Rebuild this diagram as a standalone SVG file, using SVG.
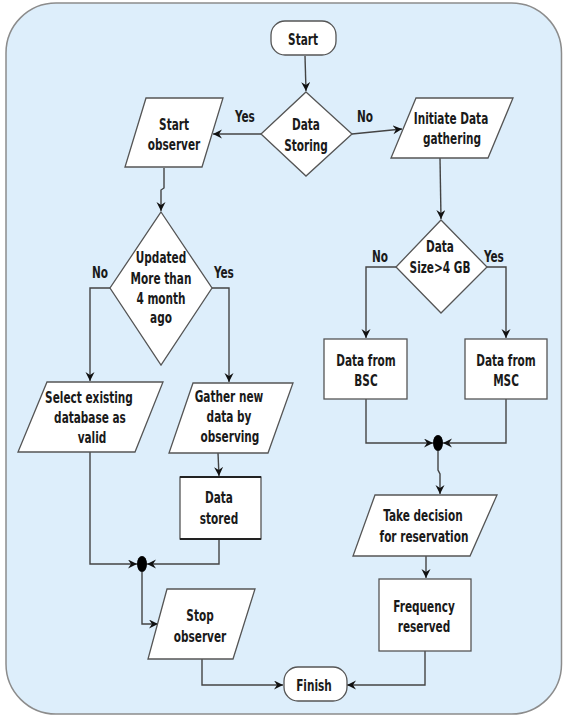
<svg xmlns="http://www.w3.org/2000/svg" width="563" height="717" viewBox="0 0 563 717">
<style>
.bg{fill:#ddeefb;stroke:#8c8c8c;stroke-width:1.5}
.n{fill:#ffffff;stroke:#555;stroke-width:1.3}
.c{fill:none;stroke:#444;stroke-width:1.4}
.dot{fill:#000}
text{font-family:"DejaVu Sans Condensed","DejaVu Sans",sans-serif;font-weight:bold;font-size:15px;fill:#1a1a1a;text-anchor:middle;transform-box:fill-box;transform-origin:center;transform:scaleX(0.78)}
</style>
<defs>
<marker id="ah" markerUnits="userSpaceOnUse" markerWidth="10" markerHeight="10" refX="9" refY="4.5" orient="auto">
<path d="M0,0 L9,4.5 L0,9 L3,4.5 z" fill="#111"/>
</marker>
</defs>
<rect class="bg" x="6" y="3" width="555.5" height="711" rx="50" ry="50"/>
<g id="connectors">
<path class="c" d="M305,56 L306,91" marker-end="url(#ah)"/>
<path class="c" d="M261,134 L213,134" marker-end="url(#ah)"/>
<path class="c" d="M352,134 L402,129" marker-end="url(#ah)"/>
<path class="c" d="M164,168 L164,188 L161,190 L161,211" marker-end="url(#ah)"/>
<path class="c" d="M440,158 L441,219" marker-end="url(#ah)"/>
<path class="c" d="M110,288 L90,288 L90,381" marker-end="url(#ah)"/>
<path class="c" d="M212,288 L229,288 L229,382" marker-end="url(#ah)"/>
<path class="c" d="M396,267 L366,267 L366,338" marker-end="url(#ah)"/>
<path class="c" d="M487,267 L506,267 L506,338" marker-end="url(#ah)"/>
<path class="c" d="M90,452 L90,564 L137,564" marker-end="url(#ah)"/>
<path class="c" d="M218,453 L219,476" marker-end="url(#ah)"/>
<path class="c" d="M219,539 L219,564 L147,564" marker-end="url(#ah)"/>
<path class="c" d="M142,572 L142,624 L158,624" marker-end="url(#ah)"/>
<path class="c" d="M202,659 L202,685 L283,685" marker-end="url(#ah)"/>
<path class="c" d="M366,399 L366,443 L433,443" marker-end="url(#ah)"/>
<path class="c" d="M506,399 L506,443 L443,443" marker-end="url(#ah)"/>
<path class="c" d="M438,451 L438,470 L440,474 L440,494" marker-end="url(#ah)"/>
<path class="c" d="M426,556 L426,578" marker-end="url(#ah)"/>
<path class="c" d="M425,651 L425,685 L347,685" marker-end="url(#ah)"/>
<text x="245" y="122">Yes</text>
<text x="365" y="122">No</text>
<text x="100" y="278">No</text>
<text x="224" y="278">Yes</text>
<text x="380" y="262">No</text>
<text x="494" y="262">Yes</text>
</g>
<g id="start">
<rect class="n" x="271" y="21" width="65" height="34" rx="14" ry="14"/>
<text x="303" y="45">Start</text>
</g>
<g id="data-storing">
<polygon class="n" points="306,92 352,134 306,176 261,134"/>
<text x="306" y="130">Data</text>
<text x="306" y="151">Storing</text>
</g>
<g id="start-observer">
<polygon class="n" points="146,98 223,98 202,167 125,167"/>
<text x="174" y="130">Start</text>
<text x="174" y="150">observer</text>
</g>
<g id="initiate">
<polygon class="n" points="416,98 513,98 488,158 391,158"/>
<text x="451" y="124">Initiate Data</text>
<text x="452" y="144">gathering</text>
</g>
<g id="updated">
<polygon class="n" points="161,212 212,288 161,365 110,288"/>
<text x="161" y="263">Updated</text>
<text x="161" y="284">More than</text>
<text x="161" y="304">4 month</text>
<text x="161" y="323">ago</text>
</g>
<g id="data-size">
<polygon class="n" points="441,220 487,267 441,313 396,267"/>
<text x="440" y="252">Data</text>
<text x="440" y="273">Size&gt;4 GB</text>
</g>
<g id="select-existing">
<polygon class="n" points="47,382 163,382 135,452 18,452"/>
<text x="89" y="403">Select existing</text>
<text x="90" y="423">database as</text>
<text x="92" y="443">valid</text>
</g>
<g id="gather-new">
<polygon class="n" points="193,383 293,383 268,453 169,453"/>
<text x="229" y="402">Gather new</text>
<text x="229" y="422">data by</text>
<text x="230" y="442">observing</text>
</g>
<g id="data-stored">
<rect class="n" x="180" y="477" width="81" height="62"/>
<line x1="180" y1="477" x2="261" y2="477" stroke="#222" stroke-width="2.2"/>
<line x1="180" y1="539" x2="261" y2="539" stroke="#222" stroke-width="2.2"/>
<text x="219" y="503">Data</text>
<text x="219" y="524">stored</text>
</g>
<g id="junction-left">
<ellipse class="dot" cx="142" cy="564" rx="5" ry="8"/>
</g>
<g id="stop-observer">
<polygon class="n" points="167,589 255,589 233,659 148,659"/>
<text x="200" y="621">Stop</text>
<text x="200" y="642">observer</text>
</g>
<g id="finish">
<rect class="n" x="284" y="667" width="63" height="34" rx="14" ry="14"/>
<text x="314" y="691">Finish</text>
</g>
<g id="data-bsc">
<rect class="n" x="324" y="339" width="83" height="60"/>
<text x="366" y="366">Data from</text>
<text x="366" y="386">BSC</text>
</g>
<g id="data-msc">
<rect class="n" x="465" y="339" width="82" height="60"/>
<text x="506" y="366">Data from</text>
<text x="506" y="386">MSC</text>
</g>
<g id="junction-right">
<ellipse class="dot" cx="438" cy="443" rx="5" ry="8"/>
</g>
<g id="take-decision">
<polygon class="n" points="375,495 497,495 470,556 353,556"/>
<text x="423" y="521">Take decision</text>
<text x="424" y="542">for reservation</text>
</g>
<g id="frequency">
<rect class="n" x="379" y="579" width="92" height="72"/>
<text x="424" y="612">Frequency</text>
<text x="424" y="632">reserved</text>
</g>
</svg>
